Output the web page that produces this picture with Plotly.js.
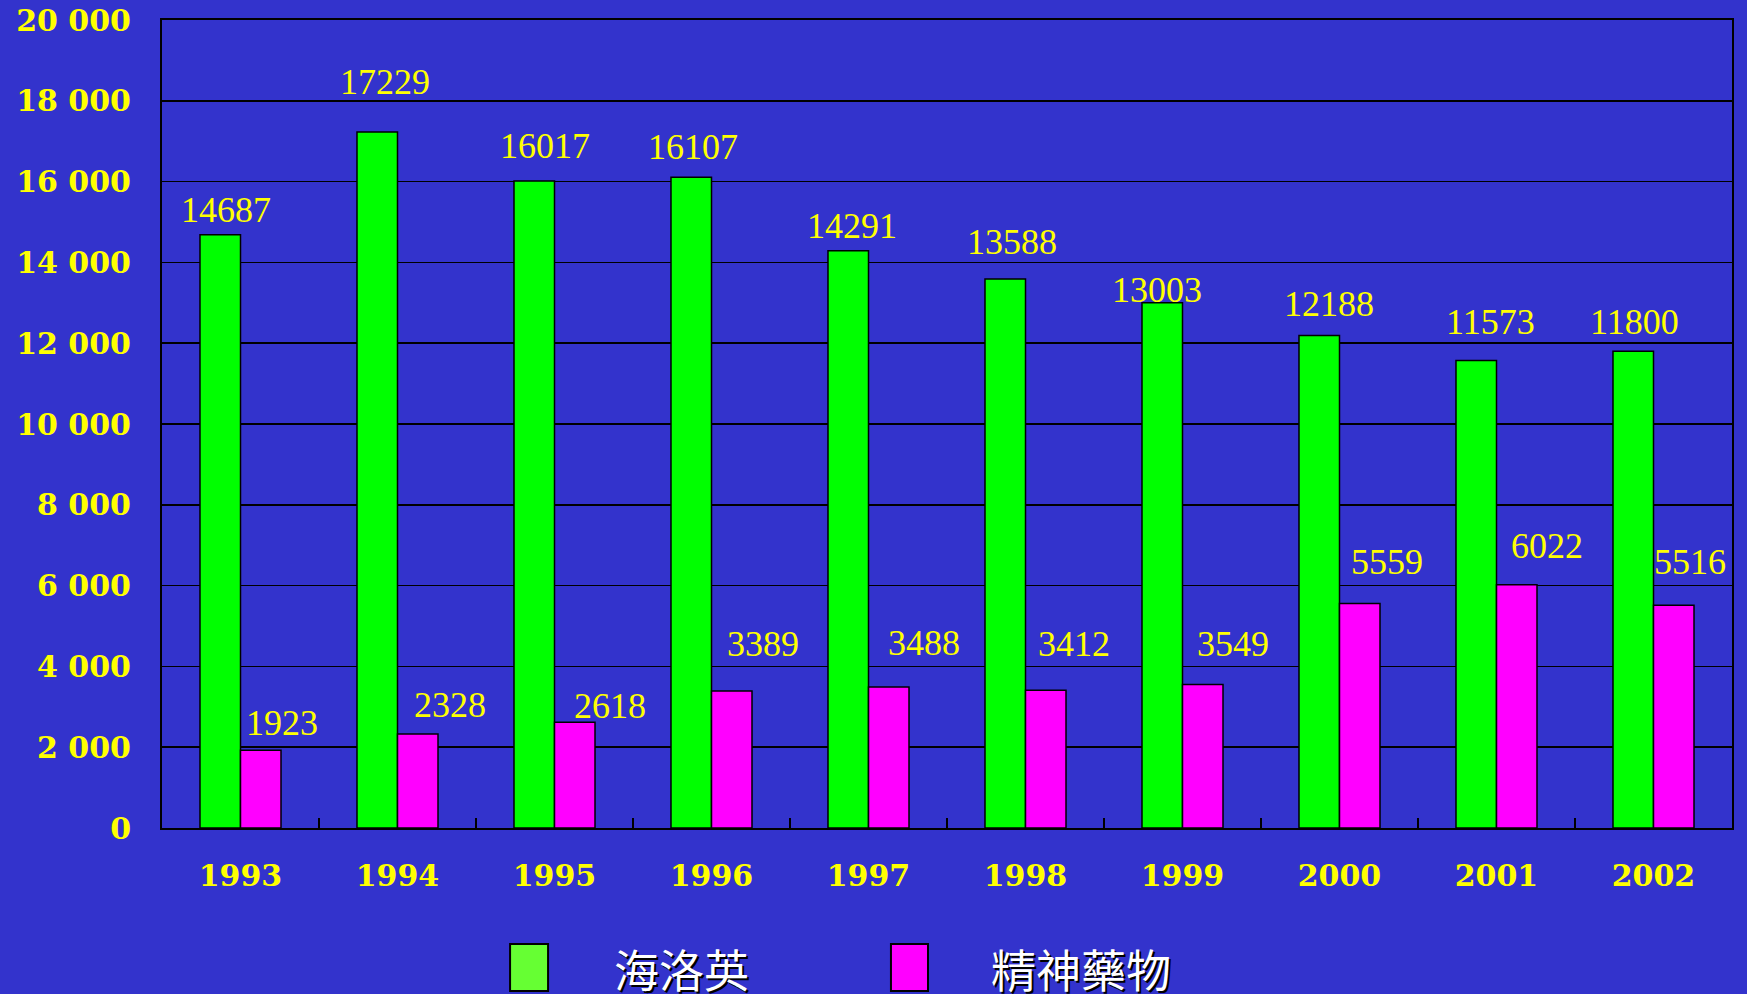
<!DOCTYPE html>
<html>
<head>
<meta charset="utf-8">
<script src="https://cdn.plot.ly/plotly-3.0.1.min.js"></script>
<style>
  html, body { margin: 0; padding: 0; background: #3333CC; }
  #chart { width: 1747px; height: 994px; }
</style>
</head>
<body>
<div id="chart"></div>
<script>
// Data
const years = ['1993', '1994', '1995', '1996', '1997', '1998', '1999', '2000', '2001', '2002'];
const heroin = [14687, 17229, 16017, 16107, 14291, 13588, 13003, 12188, 11573, 11800];
const psychotropic = [1923, 2328, 2618, 3389, 3488, 3412, 3549, 5559, 6022, 5516];
const seriesNames = ['海洛英', '精神藥物'];
const yTicks = [0, 2000, 4000, 6000, 8000, 10000, 12000, 14000, 16000, 18000, 20000];

// Label placement nudges (pixels) – the original labels were placed by hand
const heroinLabelDx = [-15, -13, -9.5, -18.5, -17, -14, -26, -10.5, -6, -19.5];
const heroinLabelDy = [3, 27.5, 13, 8.5, 3, 15, -9, 9.5, 16.5, 7.5];
const psychLabelDx = [41.5, 52.5, 55, 51.5, 55, 48, 50.5, 47, 50.5, 36];
const psychLabelDy = [5.5, 6.5, -5.5, 25.5, 22.5, 24.5, 19, 19, 16.5, 21];

const BG = '#3333CC';
const YELLOW = '#FFFF00';

const traces = [
  {
    type: 'bar', name: seriesNames[0], x: years, y: heroin,
    marker: { color: '#00FF00', line: { color: '#000000', width: 1.5 } },
    hoverinfo: 'x+y'
  },
  {
    type: 'bar', name: seriesNames[1], x: years, y: psychotropic,
    marker: { color: '#FF00FF', line: { color: '#000000', width: 1.5 } },
    hoverinfo: 'x+y'
  }
];

const labelFont = { family: 'Liberation Serif, Times New Roman, serif', size: 36, color: YELLOW };
const annotations = [];
years.forEach((yr, i) => {
  // category axis: x given as the category's serial index
  annotations.push({
    x: i, y: heroin[i], xref: 'x', yref: 'y', text: String(heroin[i]),
    showarrow: false, xanchor: 'center', yanchor: 'bottom',
    xshift: heroinLabelDx[i], yshift: heroinLabelDy[i], font: labelFont
  });
  annotations.push({
    x: i, y: psychotropic[i], xref: 'x', yref: 'y', text: String(psychotropic[i]),
    showarrow: false, xanchor: 'center', yanchor: 'bottom',
    xshift: psychLabelDx[i], yshift: psychLabelDy[i], font: labelFont
  });
});

// Custom legend (tall swatches)
const legendFont = {
  family: 'Noto Sans CJK TC, Noto Sans CJK SC, sans-serif', size: 45, color: '#FFFFFF',
  shadow: '2px 2px 0px #000000'
};
const legendItems = [
  { name: seriesNames[0], color: '#66FF33', x0: 0.2217, x1: 0.2459, tx: 0.2866 },
  { name: seriesNames[1], color: '#FF00FF', x0: 0.4643, x1: 0.4879, tx: 0.5268 }
];
const shapes = [];
legendItems.forEach(it => {
  shapes.push({
    type: 'rect', xref: 'paper', yref: 'paper',
    x0: it.x0, x1: it.x1, y0: -0.1436, y1: -0.2017,
    fillcolor: it.color, line: { color: '#000000', width: 2 }
  });
  annotations.push({
    xref: 'paper', yref: 'paper', x: it.tx, y: -0.1745,
    xanchor: 'left', yanchor: 'middle', showarrow: false,
    text: it.name, font: legendFont
  });
});

const tickFont = { family: 'DejaVu Serif, serif', size: 30, color: YELLOW, weight: 'bold' };

const layout = {
  width: 1747, height: 994,
  paper_bgcolor: BG, plot_bgcolor: BG,
  margin: { l: 162, r: 15, t: 20, b: 166, pad: 0 },
  showlegend: false,
  barmode: 'group', bargap: 0.484, bargroupgap: 0,
  separators: '. ',
  xaxis: {
    type: 'category', range: [-0.5, years.length - 0.5],
    showline: true, linecolor: '#000000', linewidth: 2, mirror: true,
    ticks: 'inside', tickson: 'boundaries', ticklen: 10, tickwidth: 2, tickcolor: '#000000',
    tickfont: tickFont, ticklabelstandoff: 20, tickangle: 0,
    showgrid: false, zeroline: false, fixedrange: true
  },
  yaxis: {
    range: [0, 20000], tickmode: 'array', tickvals: yTicks,
    tickformat: ',d',
    showline: true, linecolor: '#000000', linewidth: 2, mirror: true,
    showgrid: true, gridcolor: '#000000', gridwidth: 1.5,
    zeroline: false, ticks: '',
    tickfont: tickFont, ticklabelstandoff: 23, fixedrange: true
  },
  annotations: annotations,
  shapes: shapes
};

Plotly.newPlot('chart', traces, layout, { displayModeBar: false, staticPlot: true });
</script>
</body>
</html>
